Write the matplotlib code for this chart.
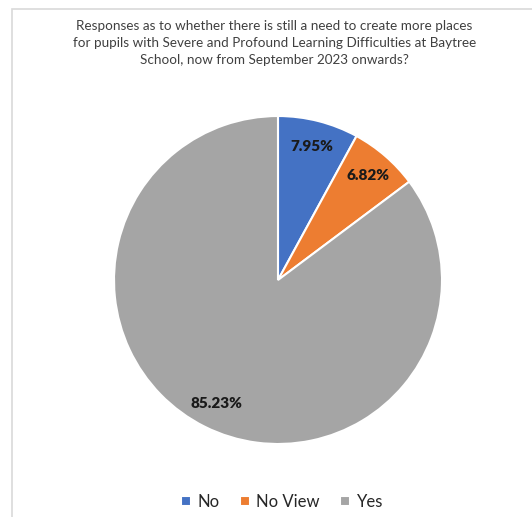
import matplotlib.pyplot as plt
from matplotlib.patches import Rectangle

labels = ["No", "No View", "Yes"]
values = [7.95, 6.82, 85.23]
colors = ["#4472C4", "#ED7D31", "#A5A5A5"]
title = ("Responses as to whether there is still a need to create more places\n"
         "for pupils with Severe and Profound Learning Difficulties at Baytree\n"
         "School, now from September 2023 onwards?")

plt.rcParams['font.family'] = ['Lato', 'DejaVu Sans']

fig = plt.figure(figsize=(5.32, 5.17), dpi=100)

# light chart border (left and top visible)
fig.patches.append(Rectangle((12 / 532, -0.1), 1.2, 1 - 9 / 517 + 0.1,
                             transform=fig.transFigure, fill=False,
                             edgecolor="#D9D9D9", linewidth=1.2))

fig.text(0.516, 1 - 20 / 517, title, ha="center", va="top",
         fontsize=9.7, color="#404040", linespacing=1.48)

ax = fig.add_axes([0.2143, 0.1412, 0.6165, 0.6344])
wedges, texts, autotexts = ax.pie(values, colors=colors, startangle=90,
                                  counterclock=False, autopct="%.2f%%",
                                  pctdistance=0.84,
                                  wedgeprops=dict(edgecolor="white", linewidth=1.5),
                                  textprops=dict(fontsize=11, fontweight="heavy",
                                                 color="#1a1a1a"))
ax.set_xlim(-1, 1)
ax.set_ylim(-1, 1)
ax.set_aspect("equal")

fig.legend(wedges, labels, loc="center", bbox_to_anchor=(0.53, 1 - 502 / 517),
           ncol=3, frameon=False, fontsize=12, handlelength=0.6, handleheight=0.6,
           handletextpad=0.4, columnspacing=1.2, labelcolor="#262626")

fig.savefig("out.png", dpi=100)
